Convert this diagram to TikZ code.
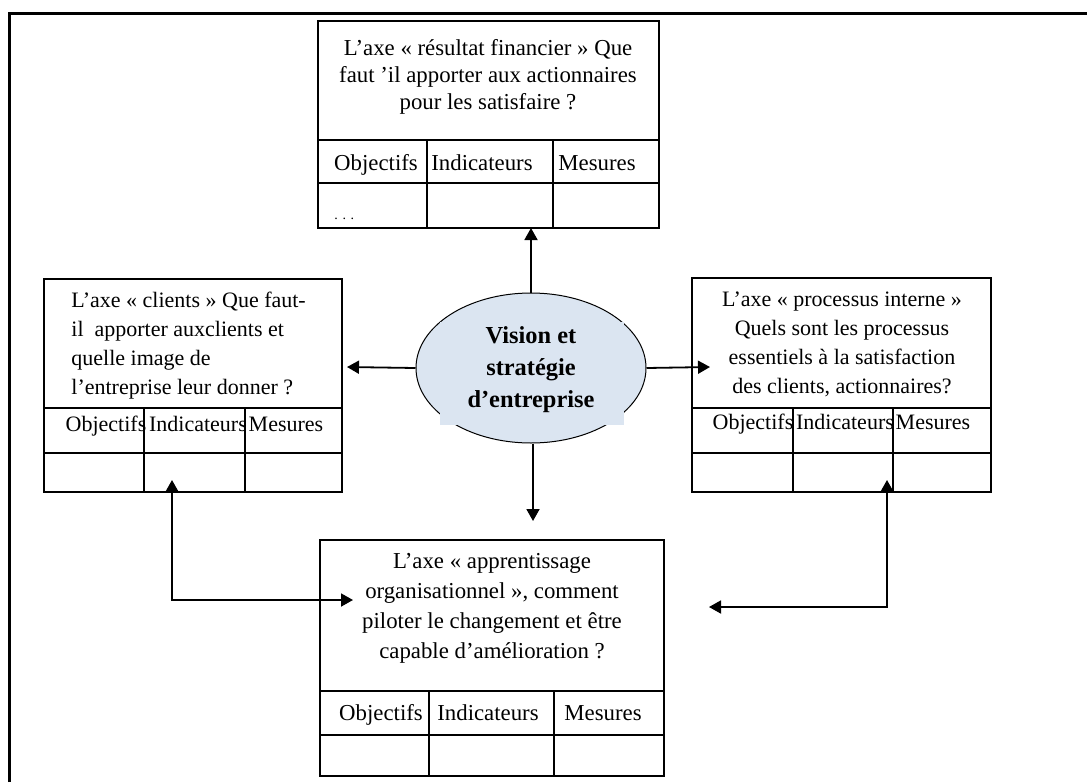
\documentclass[tikz,border=0pt]{standalone}
\usepackage{fontspec}
\setmainfont{Liberation Serif}
\usepackage{xcolor}
\usetikzlibrary{shapes.geometric,arrows.meta,calc,positioning}
\definecolor{visionblue}{HTML}{DBE5F1}

\begin{document}
\begin{tikzpicture}[x=0.5pt, y=-0.5pt]
	\tikzstyle{every node} = [inner sep=0pt, font=\fontsize{11.4}{13.5}\selectfont]
	\tikzstyle{cell} = [draw=black, line width=1pt]
	\tikzstyle{head} = [text height=1.6ex, text depth=0.4ex]
	\tikzstyle{side} = [font=\fontsize{11}{14.5}\selectfont]
	\tikzstyle{link} = [line width=0.9pt, {Triangle[length=6pt,width=6.5pt]}-{Triangle[length=6pt,width=6.5pt]}]
	\tikzstyle{arrow} = [line width=0.9pt, -{Triangle[length=6pt,width=6.5pt]}]
\useasboundingbox (0,0) rectangle (1087,782);

% frame
\draw[line width=1.5pt] (9,782) -- (9,13) -- (1087,13);

% axe resultat financier
\draw[cell] (318,21) rectangle (659,228);
\draw[cell] (318,140) -- (659,140) (318,183) -- (659,183) (427,140) -- (427,228) (553,140) -- (553,228);
\node[align=center] (finq) at (488,77) {L'axe « résultat financier » Que\\faut 'il apporter aux actionnaires\\pour les satisfaire ?};
\node[head] (fin1) at (376,165) {Objectifs};
\node[head] (fin2) at (482,165) {Indicateurs};
\node[head] (fin3) at (597,165) {Mesures};
\node[anchor=base west, font=\fontsize{7}{7}\selectfont] (fin4) at (334,219) {. . .};
\coordinate (finin) at (531,228);

% axe clients
\draw[cell] (44,279) rectangle (342,492);
\draw[cell] (44,408) -- (342,408) (44,453) -- (342,453) (144,408) -- (144,492) (245,408) -- (245,492);
\node[side, align=left, anchor=west] (cliq) at (71,346) {L'axe « clients » Que faut-\\il~ apporter auxclients et\\quelle image de\\l'entreprise leur donner ?};
\node[side, head] (cli1) at (106,426) {Objectifs};
\node[side, head] (cli2) at (198,426) {Indicateurs};
\node[side, head] (cli3) at (286,426) {Mesures};
\coordinate (cliin) at (347,367);
\coordinate (cliup) at (172,480);

% axe processus interne
\draw[cell] (692,278) rectangle (991,492);
\draw[cell] (692,408) -- (991,408) (692,453) -- (991,453) (793,408) -- (793,492) (893,408) -- (893,492);
\node[side, align=center] (proq) at (842,344) {L'axe « processus interne »\\Quels sont les processus\\essentiels à la satisfaction\\des clients, actionnaires?};
\node[side, head] (pro1) at (753,424) {Objectifs};
\node[side, head] (pro2) at (845,424) {Indicateurs};
\node[side, head] (pro3) at (933,424) {Mesures};
\coordinate (proin) at (710,367);
\coordinate (proup) at (887,480);

% axe apprentissage organisationnel
\draw[cell] (320,540) rectangle (664,776);
\draw[cell] (320,691) -- (664,691) (320,735) -- (664,735) (429,691) -- (429,776) (554,691) -- (554,776);
\node[align=center, font=\fontsize{11.4}{15}\selectfont] (appq) at (492,608) {L'axe « apprentissage\\organisationnel », comment\\piloter le changement et être\\capable d'amélioration ?};
\node[head] (app1) at (381,715) {Objectifs};
\node[head] (app2) at (488,715) {Indicateurs};
\node[head] (app3) at (603,715) {Mesures};
\coordinate (appin) at (533,521);
\coordinate (appl) at (353,600);
\coordinate (appr) at (709,607);

% vision
\node[ellipse, draw, line width=0.5pt, fill=visionblue, minimum width=115pt, minimum height=75pt] (vision) at (531,368) {};
\fill[visionblue] (440,322) rectangle (624,425);
\node[align=center, font=\bfseries\fontsize{12.2}{16}\selectfont] (visiontxt) at (531,370) {Vision et\\stratégie\\d'entreprise};

	\draw[arrow] (vision.north) -- (vision.north |- finin);
	\draw[arrow] (vision.west) -- (cliin);
	\draw[arrow] (vision.east) -- (proin);
	\draw[arrow] (vision.south -| appin) -- (appin);
	\draw[link] (cliup) |- (appl);
	\draw[link] (proup) |- (appr);
\end{tikzpicture}
\end{document}
